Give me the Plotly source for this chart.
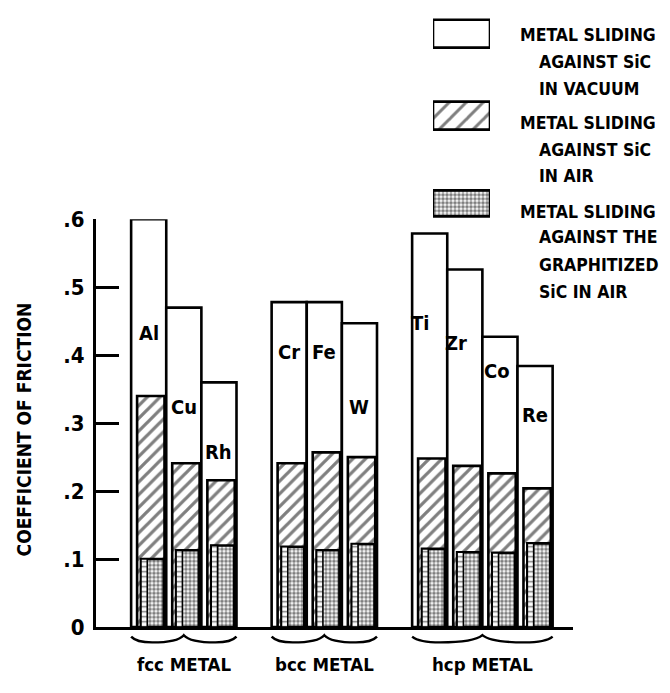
import plotly.graph_objects as go

# ---------------- data ----------------
metals = ["Al", "Cu", "Rh", "Cr", "Fe", "W", "Ti", "Zr", "Co", "Re"]
groups = ["fcc METAL", "bcc METAL", "hcp METAL"]
group_sizes = [3, 3, 4]
vacuum = [0.600, 0.470, 0.360, 0.478, 0.478, 0.447, 0.579, 0.526, 0.427, 0.384]
air = [0.340, 0.241, 0.216, 0.241, 0.257, 0.250, 0.248, 0.237, 0.226, 0.204]
graphitized = [0.100, 0.113, 0.120, 0.118, 0.113, 0.122, 0.115, 0.110, 0.109, 0.123]
y_tickvals = [0, 0.1, 0.2, 0.3, 0.4, 0.5, 0.6]
y_ticktext = ["0", ".1", ".2", ".3", ".4", ".5", ".6"]
legend_labels = [
    ["METAL SLIDING", "AGAINST SiC", "IN VACUUM"],
    ["METAL SLIDING", "AGAINST SiC", "IN AIR"],
    ["METAL SLIDING", "AGAINST THE", "GRAPHITIZED", "SiC IN AIR"],
]
y_title = "COEFFICIENT OF FRICTION"

# ---------------- layout helpers (positions / styles) ----------------
W, H = 670, 693
FONT = "DejaVu Sans Condensed, Liberation Sans Narrow, sans-serif"
label_heights = [0.433, 0.323, 0.257, 0.404, 0.404, 0.323, 0.448, 0.418, 0.376, 0.312]
label_shift = [0, 0, 0, 0, 0, 0, -10, -9, -3, 0]


def px_x(p):
    return p / W


def px_y(p):
    return (H - p) / H


def bold(size):
    return dict(family=FONT, size=size, color="black", weight=700)


# bar positions: groups separated by one empty slot
pos = []
p = 0
for size in group_sizes:
    for _ in range(size):
        pos.append(p)
        p += 1
    p += 1

LW = 2.6
HATCH = dict(shape="/", fgcolor="black", bgcolor="white", size=9, solidity=0.36)
STIPPLE = dict(shape=".", fgcolor="black", bgcolor="white", size=4, solidity=0.65)

fig = go.Figure()
fig.add_trace(go.Bar(x=pos, y=vacuum, width=1.0, offset=-0.5,
                     marker=dict(color="white", line=dict(color="black", width=LW)),
                     cliponaxis=False, showlegend=False, hoverinfo="skip"))
fig.add_trace(go.Bar(x=pos, y=air, width=0.78, offset=-0.33,
                     marker=dict(color="white", line=dict(color="black", width=LW),
                                 pattern=HATCH),
                     cliponaxis=False, showlegend=False, hoverinfo="skip"))
fig.add_trace(go.Bar(x=pos, y=graphitized, width=0.65, offset=-0.22,
                     marker=dict(color="white", line=dict(color="black", width=LW),
                                 pattern=STIPPLE),
                     cliponaxis=False, showlegend=False, hoverinfo="skip"))
fig.add_trace(go.Bar(x=pos, y=graphitized, width=0.18, offset=-0.22,
                     marker=dict(color="white", line=dict(color="black", width=1.6),
                                 pattern=dict(shape="-", fgcolor="black", bgcolor="white",
                                              size=5, solidity=0.3)),
                     cliponaxis=False, showlegend=False, hoverinfo="skip"))

# legend swatches drawn on a small auxiliary axis pair
swatch_centers = [22.5, 107.5, 198.5]
swatch_heights = [29, 29, 27]
swatch_patterns = [dict(shape=""),
                   dict(shape="/", fgcolor="black", bgcolor="white", size=12, solidity=0.25),
                   STIPPLE]
for c, h, pat in zip(swatch_centers, swatch_heights, swatch_patterns):
    fig.add_trace(go.Bar(x=[1], y=[c], width=[h], orientation="h", xaxis="x2", yaxis="y2",
                         marker=dict(color="white", line=dict(color="black", width=LW),
                                     pattern=pat),
                         cliponaxis=False, showlegend=False, hoverinfo="skip"))

annotations = []
# metal symbols
for m, xp, yl, sh in zip(metals, pos, label_heights, label_shift):
    annotations.append(dict(x=xp, y=yl, xref="x", yref="y", text=m, showarrow=False,
                            xshift=sh, xanchor="center", yanchor="middle", font=bold(20)))

# group labels and braces
shapes = []
start = 0
for g, size in zip(groups, group_sizes):
    members = pos[start:start + size]
    start += size
    center = sum(members) / len(members)
    annotations.append(dict(x=center, y=px_y(677), xref="x", yref="paper", text=g,
                            showarrow=False, xanchor="center", yanchor="middle",
                            font=bold(18.5)))
    x0, x1 = members[0] - 0.5, members[-1] + 0.5
    L = x1 - x0
    xm = (x0 + x1) / 2
    yE, yL, yP = px_y(648), px_y(654), px_y(646.5)
    path = (f"M {x0},{yE} Q {x0 + 0.05 * L},{yL} {x0 + 0.2 * L},{yL} "
            f"Q {xm - 0.06 * L},{yL} {xm},{yP} "
            f"Q {xm + 0.06 * L},{yL} {x1 - 0.2 * L},{yL} "
            f"Q {x1 - 0.05 * L},{yL} {x1},{yE}")
    shapes.append(dict(type="path", path=path, xref="x", yref="paper",
                       line=dict(color="black", width=2.4)))

# legend text
line_centers = [[23.5, 52, 80], [115, 143, 170], [207, 233, 262, 290]]
for lines, centers in zip(legend_labels, line_centers):
    for i, (t, cy) in enumerate(zip(lines, centers)):
        annotations.append(dict(x=px_x(518 if i == 0 else 537), y=px_y(cy), xref="paper",
                                yref="paper", xanchor="left", yanchor="middle", text=t,
                                showarrow=False, font=bold(17.5)))

# y axis title
annotations.append(dict(x=px_x(24), y=px_y(433), xref="paper", yref="paper", text=y_title,
                        textangle=-90, showarrow=False, xanchor="center", yanchor="middle",
                        font=bold(19)))

fig.update_layout(
    width=W, height=H,
    margin=dict(l=0, r=0, t=0, b=0),
    paper_bgcolor="white", plot_bgcolor="white",
    barmode="overlay",
    showlegend=False,
    hovermode=False,
    xaxis=dict(domain=[px_x(96), px_x(573)], range=[-1.5, 12.08], showline=True,
               linecolor="black", linewidth=3, showticklabels=False, ticks="",
               showgrid=False, zeroline=False, fixedrange=True),
    yaxis=dict(domain=[px_y(638), px_y(215)], range=[0, 0.6], showline=True,
               linecolor="black", linewidth=3, ticks="inside", ticklen=23, tickwidth=3,
               tickcolor="black", tickvals=y_tickvals, ticktext=y_ticktext,
               tickfont=bold(22), ticklabelstandoff=4, showgrid=False, zeroline=False,
               fixedrange=True),
    xaxis2=dict(domain=[px_x(433), px_x(490)], range=[0, 1], visible=False, anchor="y2",
                fixedrange=True),
    yaxis2=dict(domain=[px_y(215), px_y(5)], range=[215, 5], visible=False, anchor="x2",
                fixedrange=True),
    annotations=annotations,
    shapes=shapes,
)

fig.write_html("out.html", config={"displayModeBar": False},
               post_script="document.body.style.margin='0';")
